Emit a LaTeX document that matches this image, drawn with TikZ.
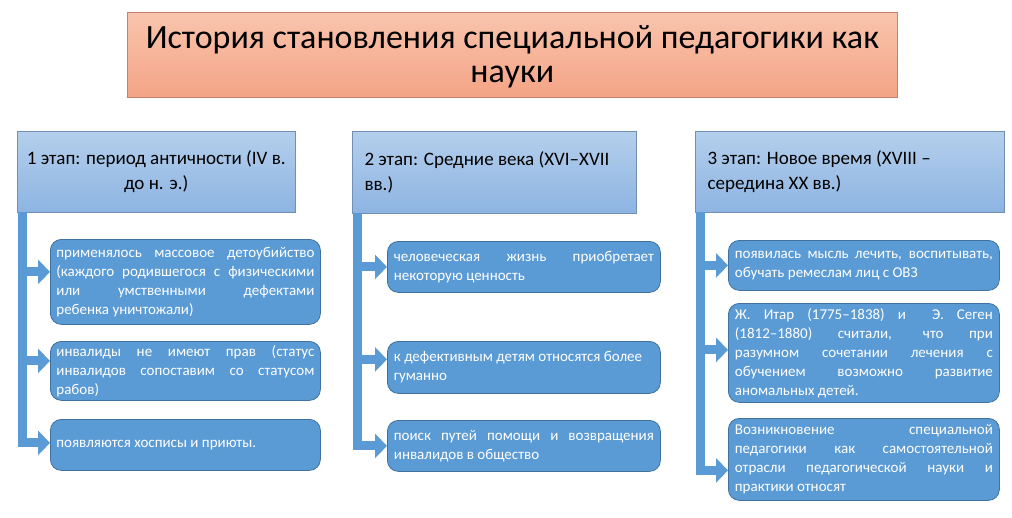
\documentclass[tikz,border=0pt]{standalone}
\usepackage{fontspec}
\setmainfont{Carlito}
\usetikzlibrary{arrows.meta}
\definecolor{subf}{HTML}{5B9BD5}
\definecolor{subd}{HTML}{41719C}
\definecolor{stgt}{HTML}{B4CFEC}
\definecolor{stgb}{HTML}{8DB4E2}
\definecolor{tit}{HTML}{F9C5AE}
\definecolor{tib}{HTML}{F4A385}
\begin{document}
\begin{tikzpicture}[x=1pt,y=-1pt,
  title/.style={draw=tib!80!black,line width=0.6pt,top color=tit,bottom color=tib,anchor=north west,inner sep=0pt},
  stage/.style={draw=stgb!80!black,line width=0.5pt,top color=stgt,bottom color=stgb,anchor=north west,inner sep=0pt},
  sub/.style={draw=subd,line width=0.8pt,fill=subf,rounded corners=11pt,anchor=north west,inner sep=0pt},
  down/.style={draw=none,line width=20pt,color=subf,-{Triangle[width=38pt,length=16pt]}},
  conn/.style={line width=9pt,color=subf,-{Triangle[width=24pt,length=12pt]}},
  tx/.style={text=white,font=\fontsize{15}{19}\selectfont,align=justify,text width=256,inner sep=0pt},
  st/.style={font=\fontsize{19}{25}\selectfont}]
\useasboundingbox (0,0) rectangle (1012,517);
\fill[white] (0,0) rectangle (1012,517);
\node[title,minimum width=770,minimum height=85] (t) at (127,12) {};
\node at ([yshift=-2]t.center) [font=\fontsize{34}{34}\selectfont,align=center] {История становления специальной педагогики как\\науки};
% stages
\node[stage,minimum width=278,minimum height=81] (s1) at (17,131) {};
\node[stage,minimum width=284,minimum height=82] (s2) at (352,131) {};
\node[stage,minimum width=309,minimum height=81] (s3) at (695,131) {};
\node[st,align=center] (s1t) at (s1.center) {1 этап: период античности (IV в.\\до н. э.)};
\node[st,align=left,anchor=west] (s2t) at ([xshift=9]s2.west) {2 этап: Средние века (XVI–XVII\\вв.)};
\node[st,align=left,anchor=west] (s3t) at ([xshift=9]s3.west) {3 этап: Новое время (XVIII –\\середина XX вв.)};
% down arrows
\coordinate (d1) at (148,97); \coordinate (d2) at (490,97); \coordinate (d3) at (878,97);
\draw[down] (d1) -- (d1 |- s1.north);
\draw[down] (d2) -- (d2 |- s2.north);
\draw[down] (d3) -- (d3 |- s3.north);
% sub boxes
\node[sub,minimum width=270,minimum height=85] (a1) at (50,239) {};
\node[sub,minimum width=270,minimum height=59] (a2) at (50,341) {};
\node[sub,minimum width=270,minimum height=51] (a3) at (50,419) {};
\node[sub,minimum width=273,minimum height=51] (b1) at (387,241) {};
\node[sub,minimum width=273,minimum height=52] (b2) at (387,341) {};
\node[sub,minimum width=273,minimum height=51] (b3) at (387,420) {};
\node[sub,minimum width=271,minimum height=50] (c1) at (728,240) {};
\node[sub,minimum width=271,minimum height=99] (c2) at (728,303) {};
\node[sub,minimum width=271,minimum height=82] (c3) at (728,418) {};
\node[tx,text width=258] at (a1.center) {применялось массовое детоубийство\linebreak (каждого родившегося с физическими\linebreak или умственными дефектами\linebreak ребенка уничтожали)};
\node[tx,text width=258] at (a2.center) {инвалиды не имеют прав (статус\linebreak инвалидов сопоставим со статусом\linebreak рабов)};
\node[tx,text width=258] at (a3.center) {появляются хосписы и приюты.};
\node[tx,text width=260] at (b1.center) {человеческая жизнь приобретает\linebreak некоторую ценность};
\node[tx,text width=260] at (b2.center) {к дефективным детям относятся более\\гуманно};
\node[tx,text width=260] at (b3.center) {поиск путей помощи и возвращения\linebreak инвалидов в общество};
\node[tx,text width=258] at (c1.center) {появилась мысль лечить, воспитывать,\linebreak обучать ремеслам лиц с ОВЗ};
\node[tx,text width=258] at (c2.center) {Ж. Итар (1775–1838) и~ Э. Сеген\linebreak (1812–1880) считали, что при\linebreak разумном сочетании лечения с\linebreak обучением возможно развитие\linebreak аномальных детей.};
\node[tx,text width=258] at (c3.center) {Возникновение специальной\linebreak педагогики как самостоятельной\linebreak отрасли педагогической науки и\linebreak практики относят};
% connectors
\coordinate (k1) at (22,212); \coordinate (k2) at (357,213); \coordinate (k3) at (700,212);
\draw[conn] (k1) |- ([yshift=10]a1.west);
\draw[conn] (k1) |- ([yshift=10]a2.west);
\draw[conn] (k1) |- ([yshift=2]a3.west);
\draw[conn] (k2) |- (b1.west);
\draw[conn] (k2) |- ([yshift=8]b2.west);
\draw[conn] (k2) |- (b3.west);
\draw[conn] (k3) |- (c1.west);
\draw[conn] (k3) |- ([yshift=3]c2.west);
\draw[conn] (k3) |- ([yshift=-11]c3.west);
\end{tikzpicture}
\end{document}
